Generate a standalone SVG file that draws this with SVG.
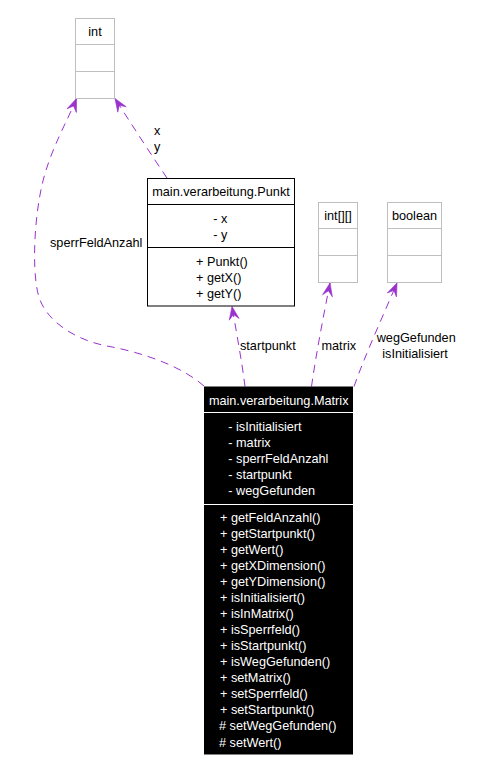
<svg xmlns="http://www.w3.org/2000/svg" width="497" height="771" viewBox="0 0 497 771">
<style>
text{font-family:"Liberation Sans",Arial,Helvetica,sans-serif;font-size:12.7px;fill:#000}
.w{fill:#fff}
.mid{text-anchor:middle}
.grey{fill:#fff;stroke:#bfbfbf;stroke-width:1}
.gl{stroke:#bfbfbf;stroke-width:1}
.blk{fill:#fff;stroke:#000;stroke-width:1}
.bl{stroke:#000;stroke-width:1}
.edge{fill:none;stroke:#9a32cd;stroke-width:1;stroke-dasharray:8,6;marker-end:url(#arr)}
</style>
<defs>
<marker id="arr" markerUnits="userSpaceOnUse" markerWidth="16" markerHeight="14" viewBox="-14 -7 16 14" refX="0" refY="0" orient="auto">
<path d="M0,0 L-13,-5 L-8,0 L-13,5 Z" fill="#9a32cd" stroke="#9a32cd" stroke-width="0.6"/>
</marker>
</defs>
<rect width="497" height="771" fill="#fff"/>
<g id="connectors">
<path class="edge" d="M204,386 C180,365 140,352 107,346 C80,341 50,325 40,300 C32,280 33,225 42,185 C50,150 68,120 76.5,98.5"/>
<path class="edge" d="M167,178 C152,156 130,122 115,98.5"/>
<path class="edge" d="M245,386.5 C242,362 236,330 232,306.5"/>
<path class="edge" d="M311.5,386.5 C316,355 323,318 330,283"/>
<path class="edge" d="M354,386.5 C364,358 382,318 397,283"/>
<text x="50" y="246.5">sperrFeldAnzahl</text>
<text x="154" y="135">x</text>
<text x="154" y="151">y</text>
<text x="240" y="350">startpunkt</text>
<text x="321.5" y="350">matrix</text>
<text x="376.7" y="342.3">wegGefunden</text>
<text x="382.3" y="358.3">isInitialisiert</text>
</g>
<g id="node-int">
<rect class="grey" x="75.5" y="18.5" width="39" height="80"/>
<line class="gl" x1="75.5" y1="44.5" x2="114.5" y2="44.5"/>
<line class="gl" x1="75.5" y1="71.5" x2="114.5" y2="71.5"/>
<text class="mid" x="95" y="36.3">int</text>
</g>
<g id="node-intarr">
<rect class="grey" x="318.5" y="202.5" width="39" height="80"/>
<line class="gl" x1="318.5" y1="228.5" x2="357.5" y2="228.5"/>
<line class="gl" x1="318.5" y1="255.5" x2="357.5" y2="255.5"/>
<text class="mid" x="338" y="220.3">int[][]</text>
</g>
<g id="node-boolean">
<rect class="grey" x="387.5" y="202.5" width="54" height="80"/>
<line class="gl" x1="387.5" y1="228.5" x2="441.5" y2="228.5"/>
<line class="gl" x1="387.5" y1="255.5" x2="441.5" y2="255.5"/>
<text class="mid" x="414.5" y="220.3">boolean</text>
</g>
<g id="node-punkt">
<rect class="blk" x="147.5" y="178.5" width="147" height="127.5"/>
<line class="bl" x1="147.5" y1="204.5" x2="294.5" y2="204.5"/>
<line class="bl" x1="147.5" y1="247.5" x2="294.5" y2="247.5"/>
<text class="mid" x="221" y="196">main.verarbeitung.Punkt</text>
<text x="213.3" y="222.5">-  x</text>
<text x="213.3" y="238.5">-  y</text>
<text x="196" y="265.5">+ Punkt()</text>
<text x="196" y="281.5">+ getX()</text>
<text x="196" y="297.5">+ getY()</text>
</g>
<g id="node-matrix">
<rect x="204" y="386.5" width="149" height="368" fill="#000"/>
<line x1="204" y1="412.5" x2="353" y2="412.5" stroke="#fff" stroke-width="1"/>
<line x1="204" y1="504.5" x2="353" y2="504.5" stroke="#fff" stroke-width="1"/>
<text class="w mid" x="278.7" y="404.5">main.verarbeitung.Matrix</text>
<text class="w" x="228.3" y="430.5">- isInitialisiert</text>
<text class="w" x="228.3" y="446.5">- matrix</text>
<text class="w" x="228.3" y="462.5">- sperrFeldAnzahl</text>
<text class="w" x="228.3" y="478.5">- startpunkt</text>
<text class="w" x="228.3" y="494.5">- wegGefunden</text>
<text class="w" x="220" y="521.5">+ getFeldAnzahl()</text>
<text class="w" x="220" y="537.6">+ getStartpunkt()</text>
<text class="w" x="220" y="553.6">+ getWert()</text>
<text class="w" x="220" y="569.7">+ getXDimension()</text>
<text class="w" x="220" y="585.8">+ getYDimension()</text>
<text class="w" x="220" y="601.9">+ isInitialisiert()</text>
<text class="w" x="220" y="617.9">+ isInMatrix()</text>
<text class="w" x="220" y="634">+ isSperrfeld()</text>
<text class="w" x="220" y="650.1">+ isStartpunkt()</text>
<text class="w" x="220" y="666.1">+ isWegGefunden()</text>
<text class="w" x="220" y="682.2">+ setMatrix()</text>
<text class="w" x="220" y="698.3">+ setSperrfeld()</text>
<text class="w" x="220" y="714.3">+ setStartpunkt()</text>
<text class="w" x="219" y="730.4"># setWegGefunden()</text>
<text class="w" x="219" y="746.5"># setWert()</text>
</g>
</svg>
